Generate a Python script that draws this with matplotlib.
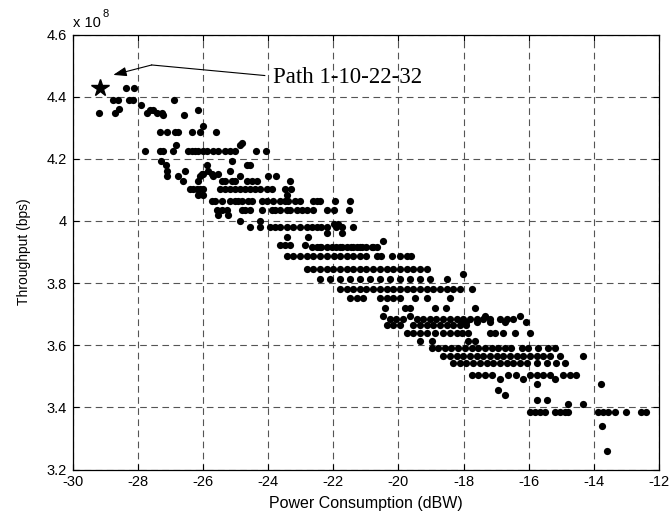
import matplotlib
matplotlib.use("Agg")
import matplotlib.pyplot as plt
from matplotlib.ticker import FormatStrFormatter

plt.rcParams["font.family"] = ["Liberation Sans", "DejaVu Sans"]
plt.rcParams["axes.unicode_minus"] = False

# throughput levels (x 1e8 bps) and the power values (dBW) seen on each level
levels = [4.428, 4.39, 4.372, 4.356, 4.348, 4.359, 4.340, 4.304, 4.286, 4.25,
          4.245, 4.224, 4.192, 4.180, 4.160, 4.152, 4.144, 4.128, 4.104, 4.082,
          4.063, 4.035, 4.018, 3.999, 3.991, 3.980, 3.962, 3.949, 3.937, 3.924,
          3.915, 3.886, 3.844, 3.828, 3.814, 3.780, 3.752, 3.720, 3.693, 3.686,
          3.675, 3.665, 3.640, 3.615, 3.590, 3.565, 3.543, 3.505, 3.490, 3.475,
          3.455, 3.441, 3.425, 3.410, 3.384, 3.341, 3.259]
power = [
    [-28.37, -28.11],
    [-28.77, -28.60, -28.26, -28.15, -26.88],
    [-27.91],
    [-27.62, -27.52, -26.14],
    [-29.19, -28.70, -27.72, -27.40, -27.26],
    [-28.56],
    [-27.23, -26.58],
    [-26.00],
    [-27.32, -27.11, -26.86, -26.75, -26.34, -26.09, -25.60],
    [-24.81],
    [-26.83, -24.86],
    [-27.78, -27.32, -27.21, -26.91, -26.46, -26.34, -26.24, -26.14, -26.00,
     -25.88, -25.68, -25.53, -25.32, -25.17, -25.00, -24.37, -24.06],
    [-27.29, -25.12],
    [-27.13, -25.88, -24.66, -24.56],
    [-27.09, -26.55, -25.83, -25.17],
    [-26.04, -25.99, -25.73, -25.53],
    [-27.11, -26.75, -26.09, -25.68, -24.86, -23.99, -23.74],
    [-26.60, -26.14, -25.42, -25.32, -25.12, -25.00, -24.66, -24.50, -24.35,
     -23.33],
    [-26.40, -26.29, -26.19, -26.09, -25.99, -25.48, -25.32, -25.17, -25.00,
     -24.86, -24.71, -24.56, -24.40, -24.25, -24.04, -23.89, -23.48, -23.28],
    [-26.16, -25.99, -23.43],
    [-25.73, -25.63, -25.42, -25.17, -25.00, -24.91, -24.81, -24.61, -24.50,
     -24.20, -24.04, -23.84, -23.64, -23.48, -23.38, -23.18, -23.02, -22.61,
     -22.51, -22.41, -21.95, -21.49],
    [-25.58, -25.42, -25.27, -24.81, -24.71, -24.56, -24.20, -23.89, -23.79,
     -23.64, -23.43, -23.33, -23.12, -22.97, -22.81, -22.61, -22.20, -21.99,
     -21.53],
    [-25.53, -25.22],
    [-24.86, -24.25],
    [-21.99, -21.84],
    [-24.56, -24.25, -23.94, -23.79, -23.64, -23.43, -23.23, -23.02, -22.81,
     -22.66, -22.51, -22.36, -22.20, -21.90, -21.74, -21.39],
    [-22.20, -21.74],
    [-23.43, -22.77],
    [-20.47],
    [-23.64, -23.48, -23.33, -22.87],
    [-22.66, -22.51, -22.41, -22.36, -22.20, -22.05, -21.90, -21.79, -21.74,
     -21.59, -21.44, -21.39, -21.28, -21.18, -21.13, -20.98, -20.82, -20.77,
     -20.67],
    [-23.43, -23.23, -23.02, -22.81, -22.61, -22.41, -22.20, -21.99, -21.79,
     -21.59, -21.39, -21.18, -20.98, -20.67, -20.52, -20.21, -19.95, -19.75,
     -19.60],
    [-22.81, -22.61, -22.41, -22.20, -22.00, -21.79, -21.59, -21.39, -21.18,
     -20.98, -20.77, -20.57, -20.36, -20.16, -19.95, -19.75, -19.55, -19.34,
     -19.13],
    [-18.01],
    [-22.41, -22.10, -21.79, -21.49, -21.18, -20.88, -20.57, -20.26, -19.95,
     -19.65, -19.34, -19.03, -18.52],
    [-21.79, -21.59, -21.39, -21.18, -20.98, -20.77, -20.57, -20.36, -20.16,
     -19.95, -19.75, -19.55, -19.34, -19.13, -18.93, -18.72, -18.52, -18.32,
     -18.11, -17.75],
    [-21.49, -21.28, -21.08, -20.57, -20.36, -20.16, -19.95, -19.49, -19.13,
     -18.42],
    [-20.41, -19.80, -19.65, -18.88, -18.54, -17.65],
    [-20.47, -19.65, -17.35, -16.27],
    [-20.26, -20.06, -19.85, -19.44, -19.24, -19.03, -18.83, -18.62, -18.42,
     -18.21, -18.01, -17.80, -17.60, -17.39, -17.19, -16.88, -16.68, -16.48],
    [-18.06, -17.91, -17.60, -17.19, -16.73, -16.07],
    [-20.36, -20.16, -19.95, -19.54, -19.34, -19.13, -18.93, -18.72, -18.52,
     -18.32, -18.11, -17.91],
    [-19.75, -19.54, -19.34, -19.13, -18.88, -18.62, -18.42, -18.21, -18.06,
     -17.86, -17.19, -17.04, -16.79, -16.43, -15.97],
    [-19.34, -18.98, -17.86, -17.65],
    [-18.98, -18.77, -18.57, -18.37, -18.16, -17.96, -17.75, -17.55, -17.34,
     -17.14, -16.93, -16.73, -16.53, -16.22, -16.01, -15.71, -15.40, -15.20],
    [-18.62, -18.42, -18.21, -18.01, -17.80, -17.60, -17.39, -17.19, -16.98,
     -16.78, -16.57, -16.37, -16.17, -15.97, -15.76, -15.56, -15.36, -15.05,
     -14.33],
    [-18.32, -18.11, -17.91, -17.70, -17.50, -17.29, -17.09, -16.88, -16.68,
     -16.47, -16.27, -16.06, -15.76, -15.45, -15.15, -14.90],
    [-17.75, -17.55, -17.35, -17.14, -16.63, -16.38, -15.97, -15.76, -15.56,
     -15.36, -14.95, -14.74, -14.54],
    [-16.88, -16.17, -15.20],
    [-15.76, -13.77],
    [-16.94],
    [-16.73],
    [-15.76, -15.45],
    [-14.79, -14.33],
    [-15.97, -15.81, -15.66, -15.51, -15.20, -15.05, -14.90, -14.79, -13.87,
     -13.72, -13.56, -13.36, -13.00, -12.54, -12.39],
    [-13.74],
    [-13.61],
]

best_power = -29.16
best_thr = 4.427
label_text = "Path 1-10-22-32"

x_ticks = list(range(-30, -11, 2))
y_ticks = [3.2, 3.4, 3.6, 3.8, 4.0, 4.2, 4.4, 4.6]

fig = plt.figure(figsize=(6.69, 5.16), dpi=100)
ax = fig.add_axes([0.1084, 0.0901, 0.8767, 0.843])

xs, ys = [], []
for lvl, row in zip(levels, power):
    xs.extend(row)
    ys.extend([lvl] * len(row))
ax.plot(xs, ys, "o", color="black", markersize=5.2, markeredgewidth=0, zorder=3)
ax.plot([best_power], [best_thr], "*", color="black", markersize=13, zorder=4)

# annotation: text, kinked leader line and arrowhead
ax.text(-23.85, 4.462, label_text, family=["Liberation Serif"], fontsize=16.5,
        ha="left", va="center", zorder=5)
ax.plot([-24.10, -27.57], [4.468, 4.502], color="black", lw=0.8, zorder=5)
ax.annotate("", xy=(-28.75, 4.470), xytext=(-27.57, 4.502),
            arrowprops=dict(arrowstyle="-|>,head_length=0.8,head_width=0.28",
                            color="black", lw=0.8, shrinkA=0, shrinkB=0),
            zorder=5)

ax.set_xlim(-30, -12)
ax.set_ylim(3.2, 4.6)
ax.set_xticks(x_ticks)
ax.set_yticks(y_ticks)
ax.yaxis.set_major_formatter(FormatStrFormatter("%g"))
ax.tick_params(direction="in", top=True, right=True, length=4, width=0.8,
               labelsize=10.5, pad=4)
for s in ax.spines.values():
    s.set_linewidth(0.9)
ax.grid(True, color="#555555", linestyle=(0, (6, 4)), linewidth=0.8)
ax.set_axisbelow(True)

ax.set_xlabel("Power Consumption (dBW)", fontsize=11.5, labelpad=5)
ax.set_ylabel("Throughput (bps)", fontsize=10, labelpad=11)
ax.text(0.0, 1.017, "x 10", transform=ax.transAxes, fontsize=10.5,
        ha="left", va="baseline")
ax.text(0.051, 1.040, "8", transform=ax.transAxes, fontsize=8,
        ha="left", va="baseline")

fig.savefig("out.png", dpi=100)
